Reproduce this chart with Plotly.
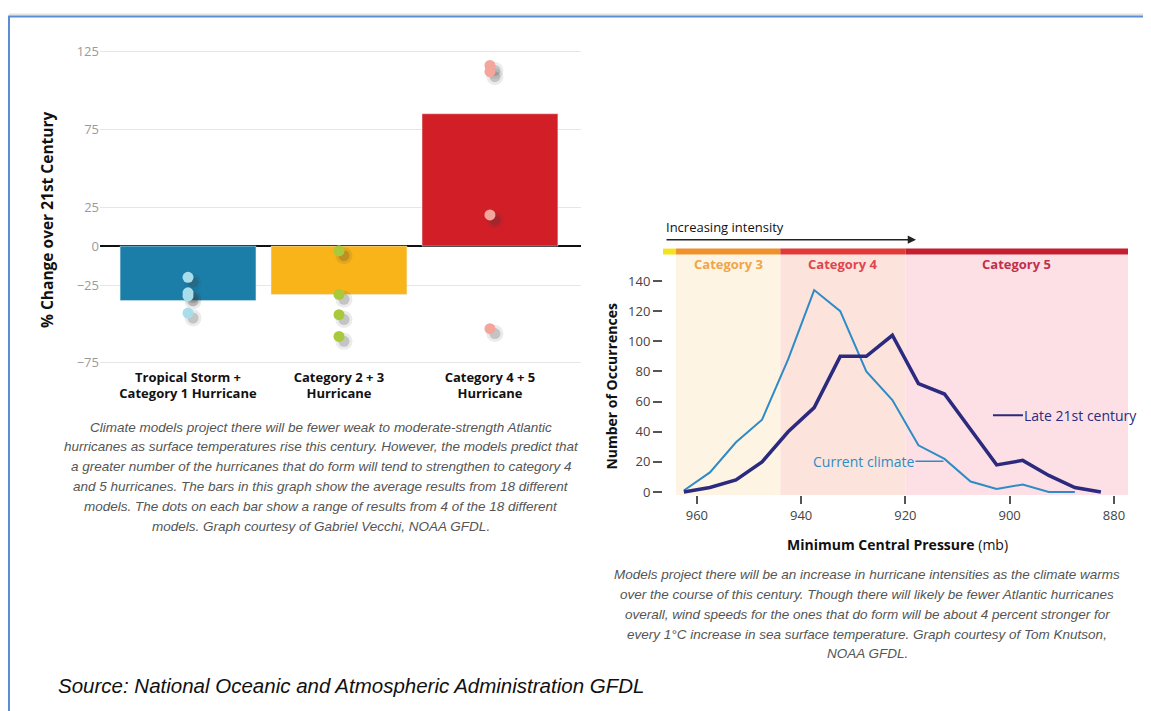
import plotly.graph_objects as go

SCREEN_W, SCREEN_H = 1151, 711
ORIGIN = 8                      # default page margin around the plot div
W, H = SCREEN_W - ORIGIN, SCREEN_H - ORIGIN

# ---------------- data: left chart ----------------
bar_categories = ["Tropical Storm +<br>Category 1 Hurricane",
                  "Category 2 + 3<br>Hurricane",
                  "Category 4 + 5<br>Hurricane"]
bar_values = [-35, -31, 85]
bar_colors = ["#1b7ea8", "#f8b418", "#d21f27"]
dot_values_ts = [-20, -30, -32, -43]
dot_values_c23 = [-3, -31, -44, -58]
dot_values_c45 = [116, 112, 20, -53]
dot_colors = ["#a9dde9", "#a9c93c", "#f4a59c"]
left_yticks = [125, 75, 25, 0, -25, -75]

# ---------------- data: right chart ----------------
pressure_bins = [962.5, 957.5, 952.5, 947.5, 942.5, 937.5, 932.5, 927.5, 922.5,
                 917.5, 912.5, 907.5, 902.5, 897.5, 892.5, 887.5, 882.5]
current_climate = [1, 13, 33, 48, 88, 134, 120, 80, 61, 31, 22, 7, 2, 5, 0, 0, None]
late_21st = [0, 3, 8, 20, 40, 56, 90, 90, 104, 72, 65, 41, 18, 21, 11, 3, 0]
right_yticks = [0, 20, 40, 60, 80, 100, 120, 140]
right_xticks = [960, 940, 920, 900, 880]
cat_names = ["Category 3", "Category 4", "Category 5"]
cat_edges = [966.5, 964, 944, 920, 877.3]   # cat2 | cat3 | cat4 | cat5
bar_strip_colors = ["#f3e21c", "#ef922c", "#e23b37", "#c41f31"]
band_colors = [None, "#fdf4e4", "#fce4dc", "#fde0e5"]
cat_label_colors = ["#f0a548", "#e0454e", "#c0304a"]

left_caption = [
    "Climate models project there will be fewer weak to moderate-strength Atlantic",
    "hurricanes as surface temperatures rise this century. However, the models predict that",
    "a greater number of the hurricanes that do form will tend to strengthen to category 4",
    "and 5 hurricanes. The bars in this graph show the average results from 18 different",
    "models. The dots on each bar show a range of results from 4 of the 18 different",
    "models. Graph courtesy of Gabriel Vecchi, NOAA GFDL.",
]
right_caption = [
    "Models project there will be an increase in hurricane intensities as the climate warms",
    "over the course of this century. Though there will likely be fewer Atlantic hurricanes",
    "overall, wind speeds for the ones that do form will be about 4 percent stronger for",
    "every 1°C increase in sea surface temperature. Graph courtesy of Tom Knutson,",
    "NOAA GFDL.",
]
source_text = "Source: National Oceanic and Atmospheric Administration GFDL"


def fx(px):
    return (px - ORIGIN) / W


def fy(py):
    return 1 - (py - ORIGIN) / H


LB = "Open Sans"
CAP = "Liberation Sans"

fig = go.Figure()

# bars (xy)
fig.add_trace(go.Bar(x=bar_categories, y=bar_values, marker_color=bar_colors,
                     width=0.9, xaxis="x", yaxis="y", showlegend=False,
                     hoverinfo="skip"))

dot_groups = [dot_values_ts, dot_values_c23, dot_values_c45]
# shadows (x2y2, shifted domain)
for cat, vals in zip(bar_categories, dot_groups):
    fig.add_trace(go.Scatter(x=[cat] * len(vals), y=vals, mode="markers",
                             marker=dict(size=17, color="rgba(60,60,60,0.10)"),
                             xaxis="x2", yaxis="y2", showlegend=False, hoverinfo="skip"))
    fig.add_trace(go.Scatter(x=[cat] * len(vals), y=vals, mode="markers",
                             marker=dict(size=11, color="rgba(60,60,60,0.22)"),
                             xaxis="x2", yaxis="y2", showlegend=False, hoverinfo="skip"))
# dots (x3y3)
for cat, vals, col in zip(bar_categories, dot_groups, dot_colors):
    fig.add_trace(go.Scatter(x=[cat] * len(vals), y=vals, mode="markers",
                             marker=dict(size=11, color=col),
                             xaxis="x3", yaxis="y3", showlegend=False, hoverinfo="skip"))

# right chart lines (x4y4)
fig.add_trace(go.Scatter(x=pressure_bins, y=current_climate, mode="lines",
                         line=dict(color="#2f8bc5", width=2),
                         xaxis="x4", yaxis="y4", showlegend=False, hoverinfo="skip"))
fig.add_trace(go.Scatter(x=pressure_bins, y=late_21st, mode="lines",
                         line=dict(color="#2b2a7e", width=3.5),
                         xaxis="x4", yaxis="y4", showlegend=False, hoverinfo="skip"))

# ---------------- axes ----------------
xL = [fx(100), fx(581)]
yL = [fy(367.7), fy(42.3)]
dx, dy = 5, 5
x_range = [-0.583, 2.603]
y_range = [-78, 128]

common_cat = dict(type="category", categoryorder="array", categoryarray=bar_categories,
                  range=x_range, fixedrange=True)

layout_axes = dict(
    xaxis=dict(domain=xL, anchor="y", showgrid=False, zeroline=False, showline=False,
               ticks="", tickvals=bar_categories,
               ticktext=["<b>" + c + "</b>" for c in bar_categories],
               tickfont=dict(family=LB, size=13, color="#111"),
               **common_cat),
    yaxis=dict(domain=yL, anchor="x", range=y_range, tickvals=left_yticks,
               showgrid=True, gridcolor="#e6e6e6", gridwidth=1,
               zeroline=True, zerolinecolor="#111", zerolinewidth=2,
               showline=False, ticks="", tickfont=dict(family=LB, size=13, color="#9a9a9a")),
    xaxis2=dict(domain=[fx(100 + dx), fx(581 + dx)], anchor="y2", visible=False, **common_cat),
    yaxis2=dict(domain=[fy(367.7 + dy), fy(42.3 + dy)], anchor="x2", range=y_range, visible=False),
    xaxis3=dict(domain=xL, anchor="y3", visible=False, **common_cat),
    yaxis3=dict(domain=yL, anchor="x3", range=y_range, visible=False),
    xaxis4=dict(domain=[fx(663), fx(1128)], anchor="y4", range=[966.5, 877.3],
                tickvals=right_xticks, ticks="outside", ticklen=8, tickwidth=1.5,
                tickcolor="#555", showgrid=False, zeroline=False, showline=False,
                tickfont=dict(family=LB, size=13, color="#444")),
    yaxis4=dict(domain=[fy(497), fy(247)], anchor="x4", range=[-2, 161.5],
                tickvals=right_yticks, ticks="outside", ticklen=9, tickwidth=2,
                tickcolor="#555", showgrid=False, zeroline=False, showline=False,
                tickfont=dict(family=LB, size=13, color="#444")),
)

# ---------------- shapes ----------------
shapes = []
top_split = (497 - 253) / 250
for i in range(4):
    x0, x1 = cat_edges[i], cat_edges[i + 1]
    if band_colors[i]:
        shapes.append(dict(type="rect", xref="x4", yref="y4 domain", x0=x0, x1=x1,
                           y0=0, y1=top_split, fillcolor=band_colors[i],
                           line=dict(width=0), layer="below"))
    shapes.append(dict(type="rect", xref="x4", yref="y4 domain", x0=x0, x1=x1,
                       y0=top_split, y1=1, fillcolor=bar_strip_colors[i],
                       line=dict(width=0), layer="below"))
# frame
shapes.append(dict(type="line", xref="paper", yref="paper", x0=fx(9), x1=1.01,
                   y0=fy(9.5), y1=fy(9.5), line=dict(color="#e2e2e2", width=2)))
shapes.append(dict(type="rect", xref="paper", yref="paper", x0=fx(9), x1=1.02,
                   y0=-0.02, y1=fy(11.5), line=dict(color="#5a8ed2", width=2),
                   fillcolor="rgba(0,0,0,0)"))

# ---------------- annotations ----------------
ann = []


def note(text, px, py, size, color="#111", xa="center", ya="middle", angle=0, family=LB):
    return dict(text=text, xref="paper", yref="paper", x=fx(px), y=fy(py),
                xanchor=xa, yanchor=ya, textangle=angle, showarrow=False,
                font=dict(family=family, size=size, color=color))


ann.append(note("<b>% Change over 21st Century</b>", 47, 218, 15.5, angle=-90))
for i, line in enumerate(left_caption):
    ann.append(note("<i>" + line + "</i>", 321, 428 + 20.2 * i, 13.5, color="#555", family=CAP))
for i, line in enumerate(right_caption):
    ann.append(note("<i>" + line + "</i>", 867, 578 + 20 * i, 13.5, color="#555", family=CAP))
ann.append(note("<i>" + source_text + "</i>", 56, 690, 20.5, xa="left", family=CAP))

ann.append(note("<b>Number of Occurrences</b>", 612, 387, 14, angle=-90))
ann.append(note("<b>Minimum Central Pressure</b> (mb)", 897, 547, 14))
ann.append(note("Increasing intensity", 664, 225, 13, xa="left"))
ann.append(dict(text="", xref="paper", yref="paper", x=fx(916), y=fy(238),
                ax=-251, ay=0, axref="pixel", ayref="pixel", showarrow=True,
                arrowhead=2, arrowsize=1.1, arrowwidth=1.5, arrowcolor="#222"))
for i, name in enumerate(cat_names):
    x0, x1 = cat_edges[i + 1], cat_edges[i + 2]
    ann.append(dict(text="<b>" + name + "</b>", xref="x4", yref="paper",
                    x=(x0 + x1) / 2, y=fy(263), xanchor="center", yanchor="middle",
                    showarrow=False,
                    font=dict(family=LB, size=13, color=cat_label_colors[i])))
ann.append(dict(text="Late 21st century", xref="x4", yref="y4", x=903.2, y=51,
                ax=88, ay=0, showarrow=True, arrowhead=0, arrowwidth=2,
                arrowcolor="#2b2a7e", standoff=0,
                font=dict(family=LB, size=14, color="#2b2a7e")))
ann.append(dict(text="Current climate", xref="x4", yref="y4", x=912.7, y=20.5,
                ax=-80, ay=0, showarrow=True, arrowhead=0, arrowwidth=1.5,
                arrowcolor="#2f8bc5", standoff=0,
                font=dict(family=LB, size=14, color="#2f8bc5")))

fig.update_layout(
    width=W, height=H, margin=dict(l=0, r=0, t=0, b=0),
    paper_bgcolor="white", plot_bgcolor="rgba(0,0,0,0)",
    showlegend=False, bargap=0.1,
    shapes=shapes, annotations=ann,
    **layout_axes,
)

fig.write_html("out.html", config={"displayModeBar": False})
